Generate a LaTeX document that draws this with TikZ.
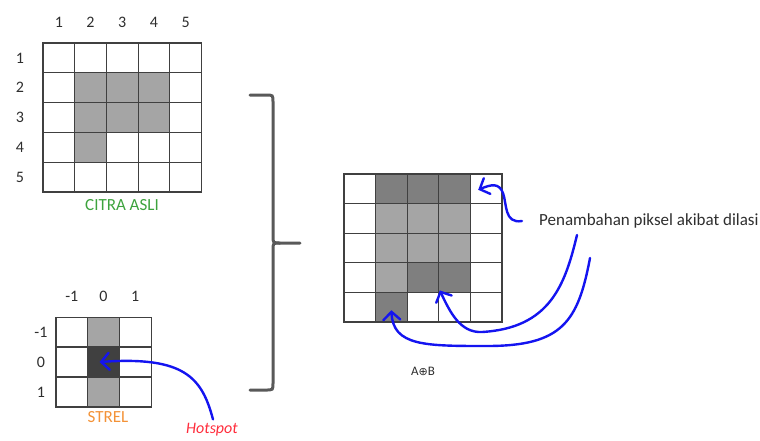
\documentclass[tikz,border=0pt]{standalone}
\usepackage{fontspec}
\setmainfont{Carlito}
\newfontfamily\symfont{DejaVu Sans}
\usetikzlibrary{arrows.meta,calc}
\definecolor{gridline}{HTML}{404040}
\definecolor{shade0}{HTML}{FFFFFF}
\definecolor{shade1}{HTML}{A5A5A5}
\definecolor{shade2}{HTML}{7F7F7F}
\definecolor{shade3}{HTML}{404040}
\definecolor{txt}{HTML}{2E2E2E}
\definecolor{citra}{HTML}{3DA33D}
\definecolor{strel}{HTML}{F39237}
\definecolor{hot}{HTML}{FF2D3C}
\definecolor{pen}{HTML}{1414F0}
\definecolor{brace}{HTML}{595959}
\begin{document}
\begin{tikzpicture}[x=1pt,y=-1pt,
  cell/.style={draw=gridline, line width=1.2pt, minimum width=31.7pt, minimum height=29.8pt, inner sep=0pt, outer sep=0pt},
  rcell/.style={draw=gridline, line width=1.2pt, minimum width=31.6pt, minimum height=29.6pt, inner sep=0pt, outer sep=0pt},
  numlbl/.style={text=txt, font=\fontsize{16}{18}\selectfont, inner sep=0pt},
  caption/.style={font=\fontsize{17}{19}\selectfont, inner sep=0pt},
  bluearrow/.style={draw=pen, line width=2.4pt, line cap=round, line join=round, -{Straight Barb[length=8pt,width=17pt,line cap=round]}},
  bracestyle/.style={draw=brace, line width=3pt, line cap=round}]
\useasboundingbox (0,0) rectangle (760,440);
% ---- original image grid
\foreach \row [count=\r] in {{0,0,0,0,0},{0,1,1,1,0},{0,1,1,1,0},{0,1,0,0,0},{0,0,0,0,0}}
  \foreach \v [count=\c] in \row
    \node[cell, fill=shade\v] (a-\r-\c) at ({43+31.7*(\c-0.5)},{43+29.8*(\r-0.5)}) {};
\foreach \c in {1,...,5}
  \node[numlbl] (acol-\c) at ({43+31.7*(\c-0.5)},22) {\c};
\foreach \r in {1,...,5}
  \node[numlbl] (arow-\r) at (20,{43+29.8*(\r-0.5)}) {\r};
\node[caption, text=citra] (citra) at (122,205) {CITRA ASLI};
% ---- structuring element
\foreach \row [count=\r] in {{0,1,0},{0,3,0},{0,1,0}}
  \foreach \v [count=\c] in \row
    \node[cell, fill=shade\v] (s-\r-\c) at ({56+31.7*(\c-0.5)},{317+30*(\r-0.5)}) {};
\foreach \t [count=\c] in {-1,0,1}
  \node[numlbl] (scol-\c) at ({56+31.7*(\c-0.5)},296) {\t};
\foreach \t [count=\r] in {-1,0,1}
  \node[numlbl] (srow-\r) at (41,{317+30*(\r-0.5)}) {\t};
\node[caption, text=strel] (strel) at (108,417) {STREL};
\node[caption, text=hot, font=\fontsize{16}{18}\selectfont\itshape] (hot) at (212,430) {Hotspot};
% ---- result grid
\foreach \row [count=\r] in {{0,2,2,2,0},{0,1,1,1,0},{0,1,1,1,0},{0,1,2,2,0},{0,2,0,0,0}}
  \foreach \v [count=\c] in \row
    \node[rcell, fill=shade\v] (r-\r-\c) at ({344+31.6*(\c-0.5)},{174+29.6*(\r-0.5)}) {};
\node[text=txt, font=\fontsize{13}{15}\selectfont, inner sep=0pt] (res) at (423,371) {A{\symfont\fontsize{11}{13}\selectfont ⊕}B};
% ---- brace
\node[inner sep=0pt] (bt) at (250,95) {};
\node[inner sep=0pt] (bm) at (300,243) {};
\node[inner sep=0pt] (bb) at (250,390) {};
\draw[bracestyle] (bt.center) -- (266,95) .. controls (273,95) .. (273,102) -- (273,236) .. controls (273,243) .. (280,243) -- (bm.center);
\draw[bracestyle] (280,243) .. controls (273,243) .. (273,250) -- (273,383) .. controls (273,390) .. (266,390) -- (bb.center);
% ---- label and arrows
\node[anchor=west, text=txt, font=\fontsize{17}{19}\selectfont, inner sep=0pt] (lbl) at (539,221) {Penambahan piksel akibat dilasi};
\coordinate (s1) at ($(lbl.west)+(-17,0)$);
\coordinate (t1) at ($(r-1-5.center)+(-8,1)$);
\draw[bluearrow] (s1) .. controls (504,224) and (507,204) .. (503,193) .. controls (499,183) and (492,184) .. (t1);
\coordinate (s2) at (577,235);
\coordinate (t2) at ($(r-4-4.south west)+(1,-2)$);
\draw[bluearrow] (s2) .. controls (565,285) and (550,328) .. (482,332) .. controls (460,333) and (450,312) .. (t2);
\coordinate (s3) at (590,258);
\coordinate (t3) at ($(r-5-2.center)+(0,3)$);
\draw[bluearrow] (s3) .. controls (578,322) and (562,346) .. (487,346) .. controls (425,346) and (393,346) .. (t3);
\draw[bluearrow] ($(hot.north)+(1,-4)$) .. controls (202,378) and (185,356) .. ($(s-2-2.center)+(-4,0)$);
\end{tikzpicture}
\end{document}
